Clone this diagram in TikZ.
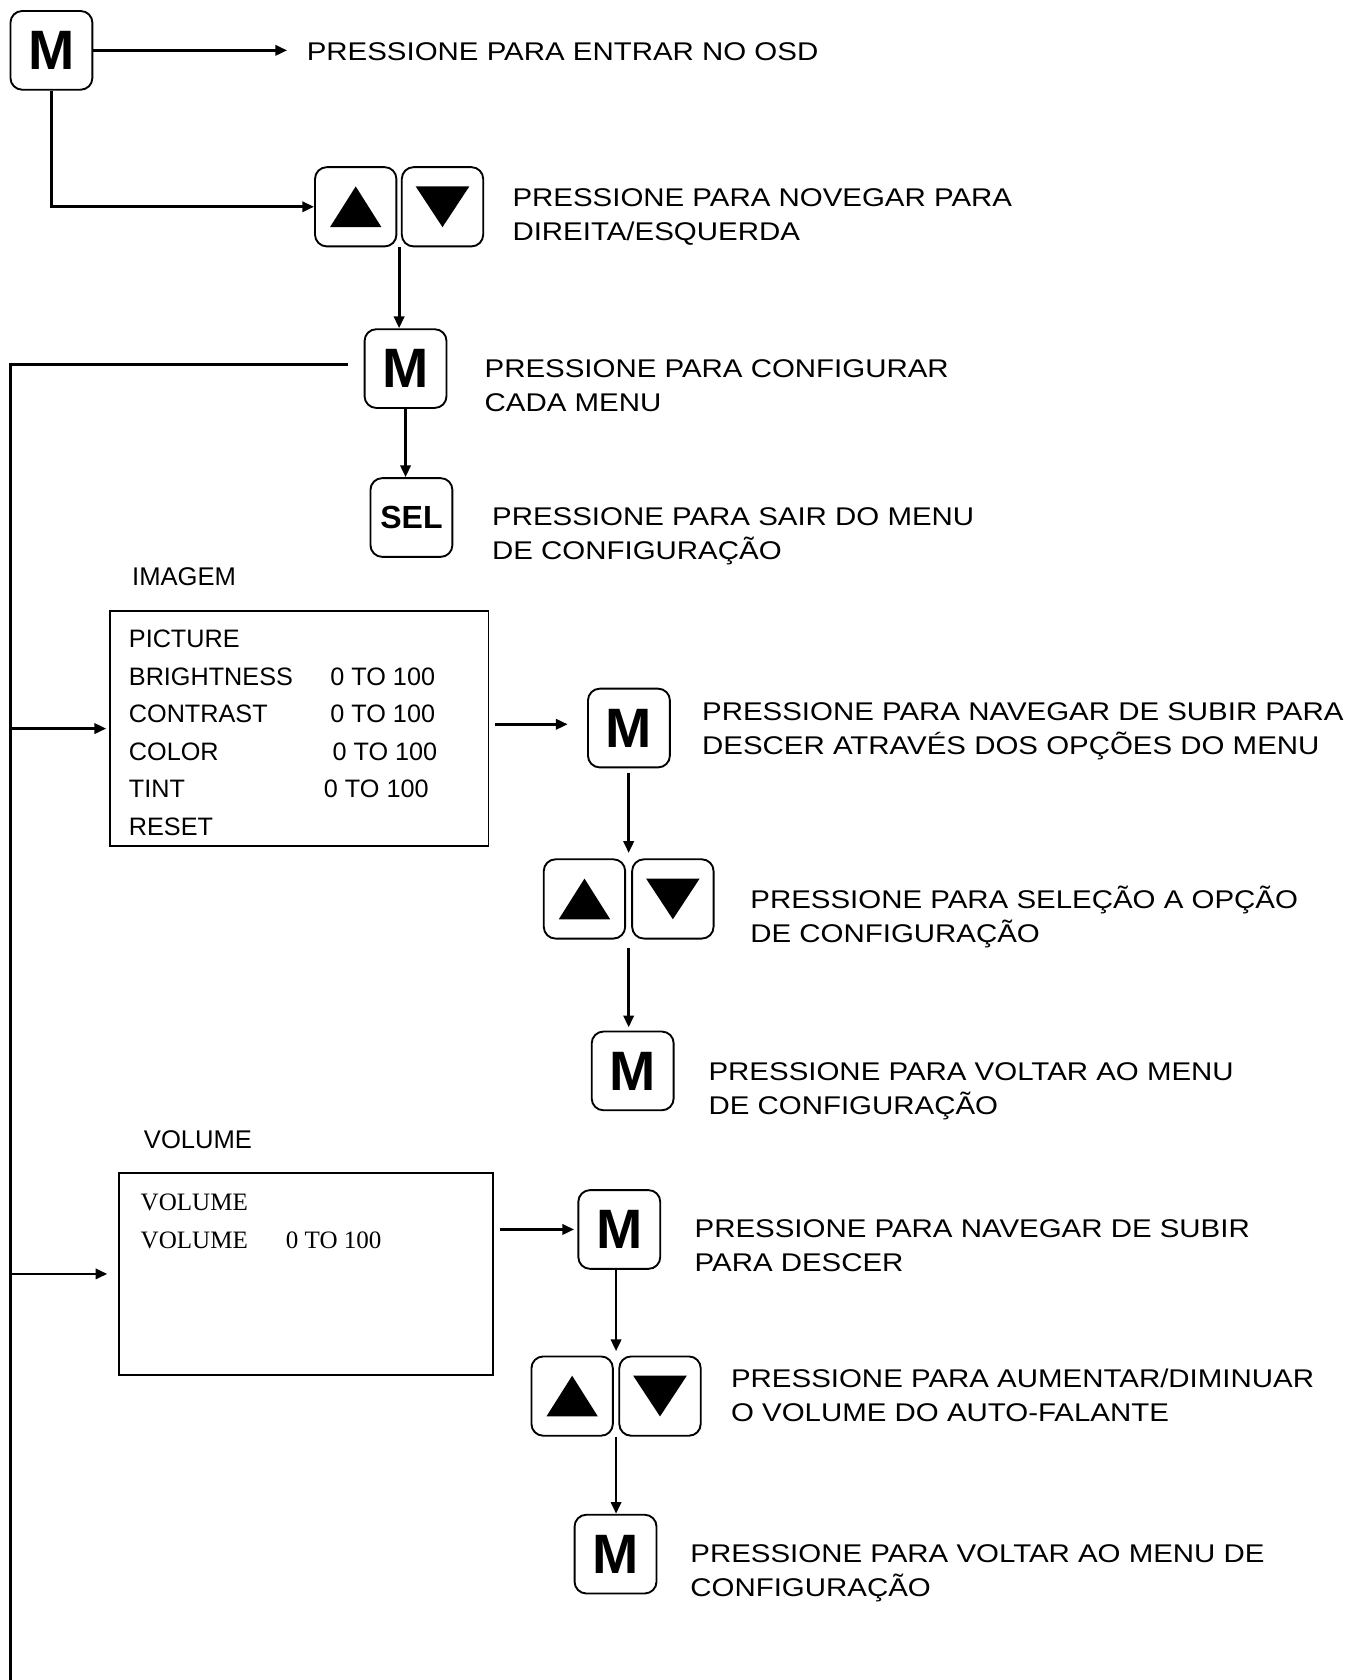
\documentclass[tikz,border=0pt]{standalone}
\usepackage{fontspec}
\setmainfont{Liberation Sans}
\newfontfamily\legfont[FakeStretch=1.15]{Liberation Sans}
\newfontfamily\menuserif{Liberation Serif}
\usetikzlibrary{arrows.meta,calc}

\begin{document}
\begin{tikzpicture}[x=0.02cm, y=-0.02cm,
	tecla/.style={draw, line width=1pt, rounded corners=0.22cm, minimum width=1.53cm, minimum height=1.47cm, inner sep=0pt, font=\fontsize{29.5}{30}\selectfont\bfseries},
	seta/.style={draw, line width=1pt, rounded corners=0.22cm, minimum width=1.52cm, minimum height=1.48cm, inner sep=0pt},
	legenda/.style={anchor=base west, inner sep=0pt, align=left, font=\legfont\fontsize{13.6}{18.2}\selectfont},
	titulo/.style={anchor=base west, inner sep=0pt, font=\fontsize{13.6}{18.2}\selectfont},
	item/.style={anchor=base west, inner sep=0pt, font=\fontsize{13.4}{18}\selectfont},
	itemserif/.style={anchor=base west, inner sep=0pt, font=\menuserif\fontsize{13.3}{16}\selectfont},
	quadro/.style={draw, line width=1pt, inner sep=0pt},
	fluxo/.style={line width=1.5pt, -{Triangle[length=0.22cm,width=0.19cm]}},
	linha/.style={line width=1.5pt}]
	\useasboundingbox (0,0) rectangle (1273,1568);

	% ==================== entrar no OSD ====================
	\node[tecla] (m1) at (48,47) {M};
	\node[legenda] (t1) at (286,56.5) {PRESSIONE PARA ENTRAR NO OSD};
	\coordinate (t1ponta) at (268,47);
	\draw[fluxo] (m1) -- (t1ponta);

	% --- navegar direita/esquerda ---
	\node[seta] (c1) at (332,193) {};
	\node[seta] (b1) at (413,193) {};
	\fill ($(c1.center)+(0,-19)$) -- ++(24,38) -- ++(-48,0) -- cycle;
	\fill ($(b1.center)+(0,19)$) -- ++(25,-38) -- ++(-50,0) -- cycle;
	\node[legenda] (t2) at (478,224.5) {PRESSIONE PARA NOVEGAR PARA\\DIREITA/ESQUERDA};
	\draw[fluxo] (m1.south) |- (c1.west);

	% --- configurar cada menu ---
	\node[tecla] (m2) at (378.5,344) {M};
	\node[legenda] (t3) at (452,384.5) {PRESSIONE PARA CONFIGURAR\\CADA MENU};
	\coordinate (v1) at ($(c1.south east)!0.5!(b1.south west)$);
	\draw[fluxo] (v1) -- (v1 |- m2.north);

	% --- sair ---
	\node[tecla, font=\fontsize{17}{18}\selectfont\bfseries] (sel) at (384,483) {SEL};
	\node[legenda] (t4) at (459,522.5) {PRESSIONE PARA SAIR DO MENU\\DE CONFIGURAÇÃO};
	\draw[fluxo] (m2.south) -- (m2.south |- sel.north);

	% barra da esquerda
	\coordinate (esq) at (10,340);
	\coordinate (esqfim) at (10,1568);
	\draw[linha, shorten <=0.3cm] (m2.west |- esq) -- (esq) -- (esqfim);

	% ==================== IMAGEM ====================
	\node[titulo] (img) at (123,546.5) {IMAGEM};
	\node[quadro, minimum width=7.06cm, minimum height=4.4cm] (q1) at (279.5,680) {};
	\node[item] (r11) at (120,604.5) {PICTURE};
	\node[item] (r12) at (120,639.5) {BRIGHTNESS};
	\node[item] (r13) at (120,674.5) {CONTRAST};
	\node[item] (r14) at (120,709.5) {COLOR};
	\node[item] (r15) at (120,744.5) {TINT};
	\node[item] (r16) at (120,779.5) {RESET};
	\node[item] (v12) at (308,639.5) {0 TO 100};
	\node[item] (v13) at (308,674.5) {0 TO 100};
	\node[item] (v14) at (310,709.5) {0 TO 100};
	\node[item] (v15) at (302,744.5) {0 TO 100};
	\draw[fluxo, shorten >=0.06cm] (esq |- q1.west) -- (q1.west);

	% --- navegar no menu ---
	\node[tecla] (m3) at (587,679.5) {M};
	\node[legenda] (t5) at (655,704.5) {PRESSIONE PARA NAVEGAR DE SUBIR PARA\\DESCER ATRAVÉS DOS OPÇÕES DO MENU};
	\draw[fluxo, shorten <=0.1cm, shorten >=0.36cm] (q1.east |- 0,676) -- (m3.west |- 0,676);

	\node[seta] (c2) at (545.5,839) {};
	\node[seta] (b2) at (628,839) {};
	\fill ($(c2.center)+(0,-19)$) -- ++(24,38) -- ++(-48,0) -- cycle;
	\fill ($(b2.center)+(0,19)$) -- ++(25,-38) -- ++(-50,0) -- cycle;
	\node[legenda] (t6) at (700,879.5) {PRESSIONE PARA SELEÇÃO A OPÇÃO\\DE CONFIGURAÇÃO};
	\coordinate (v2) at ($(c2.north east)!0.5!(b2.north west)$);
	\draw[fluxo, shorten <=0.08cm, shorten >=0.1cm] (m3.south -| v2) -- (v2);

	\node[tecla] (m4) at (590.5,999.5) {M};
	\node[legenda] (t7) at (661,1040.5) {PRESSIONE PARA VOLTAR AO MENU\\DE CONFIGURAÇÃO};
	\coordinate (v3) at ($(c2.south east)!0.5!(b2.south west)$);
	\draw[fluxo, shorten <=0.16cm, shorten >=0.06cm] (v3) -- (v3 |- m4.north);

	% ==================== VOLUME ====================
	\node[titulo] (vol) at (134,1071.5) {VOLUME};
	\node[quadro, minimum width=6.98cm, minimum height=3.76cm] (q2) at (285.5,1189) {};
	\node[itemserif] (r21) at (131,1129.5) {VOLUME};
	\node[itemserif] (r22) at (131,1165.5) {VOLUME};
	\node[itemserif] (v22) at (266.5,1165.5) {0 TO 100};
	\draw[fluxo, shorten >=0.2cm] (esq |- q2.west) -- (q2.west);

	% --- subir/descer ---
	\node[tecla] (m5) at (578,1147.5) {M};
	\node[legenda] (t8) at (648,1186.5) {PRESSIONE PARA NAVEGAR DE SUBIR\\PARA DESCER};
	\draw[fluxo, shorten <=0.12cm, shorten >=0.06cm] (q2.east |- m5) -- (m5.west);

	\node[seta] (c3) at (534,1303) {};
	\node[seta] (b3) at (616,1303) {};
	\fill ($(c3.center)+(0,-19)$) -- ++(24,38) -- ++(-48,0) -- cycle;
	\fill ($(b3.center)+(0,19)$) -- ++(25,-38) -- ++(-50,0) -- cycle;
	\node[legenda] (t9) at (682,1326.5) {PRESSIONE PARA AUMENTAR/DIMINUAR\\O VOLUME DO AUTO-FALANTE};
	\coordinate (v4) at ($(c3.north east)!0.5!(b3.north west)$);
	\draw[fluxo, shorten >=0.08cm] (m5.south -| v4) -- (v4);

	\node[tecla] (m6) at (574.5,1450.5) {M};
	\node[legenda] (t10) at (644,1490.5) {PRESSIONE PARA VOLTAR AO MENU DE\\CONFIGURAÇÃO};
	\coordinate (v5) at ($(c3.south east)!0.5!(b3.south west)$);
	\draw[fluxo] (v5) -- (v5 |- m6.north);
\end{tikzpicture}
\end{document}
